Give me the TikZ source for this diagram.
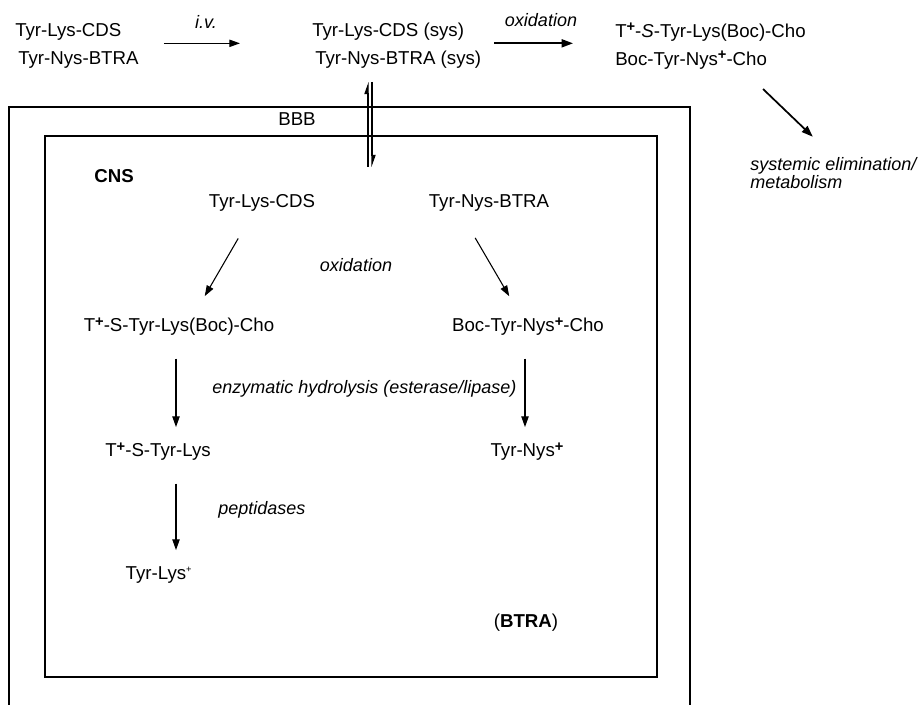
\documentclass[tikz,border=0pt]{standalone}
\usepackage{fontspec}
\setmainfont{Liberation Sans}
\usepackage{tikz}
\usetikzlibrary{arrows.meta, positioning}

\newcommand{\muatan}{\raisebox{0.3em}{\fontsize{11}{11}\selectfont\textbf{+}}}

\begin{document}
\begin{tikzpicture}[
    x=0.75pt, y=-0.75pt,
    font=\fontsize{14}{21}\selectfont,
    senyawa/.style={inner sep=0pt, text height=10pt, text depth=3pt},
    grup/.style={inner sep=0pt, align=left, anchor=west},
    ket/.style={inner sep=0pt, font=\fontsize{13.5}{12}\selectfont\itshape},
    panah/.style={-{Triangle[length=8pt,width=5.5pt]}, line width=0.8pt},
    panahtebal/.style={-{Triangle[length=8.5pt,width=6pt]}, line width=1.3pt},
    harpun/.style={-{Triangle[harpoon,length=8pt,width=5.5pt]}, line width=0.8pt},
    turun/.style={panah, shorten <=17pt, shorten >=12pt},
    garis/.style={line width=1.1pt}
  ]
    \useasboundingbox (0,0) rectangle (923,705);

    % kompartemen: sawar darah-otak dan SSP
    \draw[garis] (9,705) -- (9,107) -- (690,107) -- (690,705);
    \draw[garis] (45,136) rectangle (657,677);
    \node[senyawa] (bbb) at (297,121) {BBB};
    \node[senyawa, font=\fontsize{14}{21}\selectfont\bfseries] (cns) at (114,178) {CNS};
    \node[senyawa] (btra) at (526,623) {(\textbf{BTRA})};

    % baris atas (sistemik)
    \node[grup] (kiri) at (15,46) {Tyr-Lys-CDS\\\hspace*{2.25pt}Tyr-Nys-BTRA};
    \node[grup] (tengah) at (312,46) {Tyr-Lys-CDS (sys)\\\hspace*{2.25pt}Tyr-Nys-BTRA (sys)};
    \node[grup] (kanan) at (615,46) {T\muatan-\textit{S}-Tyr-Lys(Boc)-Cho\\Boc-Tyr-Nys\muatan-Cho};
    \node[grup, ket] (elim) at (750,173) {systemic elimination/\\metabolism};
    \node[ket] (iv) at (206,22) {i.v.};
    \node[ket] (oks) at (541,20) {oxidation};

    \draw[panah, shorten <=18.75pt, shorten >=54pt] ([yshift=2pt]kiri.east) -- ([yshift=2pt]tengah.west);
    \draw[panahtebal, shorten <=9.75pt, shorten >=31.5pt] ([yshift=2pt]tengah.east) -- ([yshift=2pt]kanan.west);
    \draw[panahtebal, shorten <=21.4pt, shorten >=22pt] ([xshift=24pt]kanan.south) -- ([xshift=0.5pt]elim.north);

    % lintas sawar
    \coordinate (atas) at (370,82);
    \coordinate (bawah) at (370,167);
    \draw[harpun] ([xshift=-1.5pt]bawah) -- ([xshift=-1.5pt]atas);
    \draw[harpun] ([xshift=1.5pt]atas) -- ([xshift=1.5pt]bawah);

    % di dalam SSP
    \node[senyawa] (lyscds) at (262,203) {Tyr-Lys-CDS};
    \node[senyawa] (nysbtra) at (489,203) {Tyr-Nys-BTRA};
    \node[ket] (oks2) at (356,265) {oxidation};
    \node[senyawa] (boclys) at (179,327) {T\muatan-S-Tyr-Lys(Boc)-Cho};
    \node[senyawa] (bocnys) at (528,327) {Boc-Tyr-Nys\muatan-Cho};
    \node[ket, anchor=west] (enzim) at (212,389) {enzymatic hydrolysis (esterase/lipase)};
    \node[senyawa] (tslys) at (158,452) {T\muatan-S-Tyr-Lys};
    \node[senyawa] (nys) at (527,452) {Tyr-Nys\muatan};
    \node[ket, anchor=west] (pept) at (218,510) {peptidases};
    \node[senyawa] (lys) at (159,575) {Tyr-Lys\textsuperscript{\scriptsize +}};

    \draw[panah, shorten <=23pt, shorten >=19pt] ([xshift=-6.3pt]lyscds.south) -- ([xshift=9.75pt]boclys.north);
    \draw[panah, shorten <=22.5pt, shorten >=19pt] ([xshift=-21.75pt]nysbtra.south) -- ([xshift=-4.5pt]bocnys.north);
    \draw[turun] ([xshift=-2.25pt]boclys.south) -- ([xshift=-2.25pt]boclys.south |- tslys.north);
    \draw[turun] ([xshift=-2.25pt]bocnys.south) -- ([xshift=-2.25pt]bocnys.south |- nys.north);
    \draw[turun] ([xshift=13.5pt]tslys.south) -- ([xshift=13.5pt]tslys.south |- lys.north);
  \end{tikzpicture}
\end{document}
